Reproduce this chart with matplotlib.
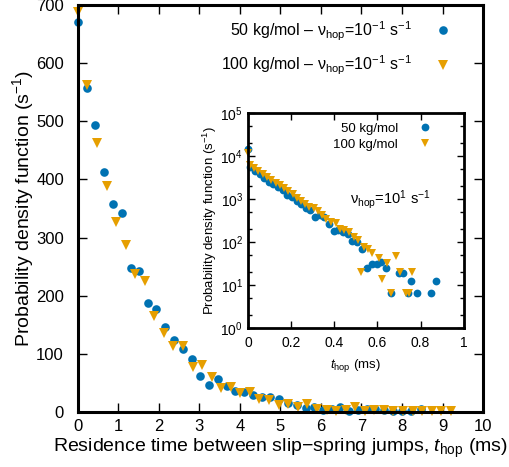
import matplotlib
matplotlib.use("Agg")
import matplotlib.pyplot as plt
from matplotlib.ticker import LogLocator, MultipleLocator, NullFormatter

plt.rcParams["font.family"] = ["Liberation Sans", "DejaVu Sans"]
plt.rcParams["mathtext.fontset"] = "custom"
plt.rcParams["mathtext.rm"] = "Liberation Sans"
plt.rcParams["mathtext.it"] = "Liberation Sans:italic"

BLUE = "#0072B2"
ORANGE = "#E69F00"

# main panel, nu_hop = 1e-1 s^-1
t50 = [0.0, 0.216, 0.43, 0.65, 0.86, 1.08, 1.30, 1.51, 1.73, 1.94,
       2.16, 2.38, 2.59, 2.81, 3.02, 3.24, 3.46, 3.67, 3.89, 4.10,
       4.32, 4.54, 4.75, 4.97, 5.18, 5.40, 5.62, 5.83, 6.05, 6.26,
       6.48, 6.70, 6.91, 7.13, 7.34, 7.56, 7.78, 7.99, 8.21, 8.46]
p50 = [671, 558, 494, 412, 357, 342, 248, 242, 188, 177,
       146, 124, 108, 91, 62, 46, 56, 45, 36, 34,
       29, 25, 25, 22, 16, 12, 6, 8, 3, 5,
       9, 2, 3, 5, 5, 3, 2, 2, 2, 5]
t100 = [0.0, 0.236, 0.47, 0.71, 0.94, 1.18, 1.42, 1.65, 1.89, 2.12,
        2.36, 2.60, 2.83, 3.07, 3.30, 3.54, 3.78, 4.01, 4.25, 4.48,
        4.72, 4.96, 5.19, 5.43, 5.66, 5.90, 6.14, 6.37, 6.61, 6.84,
        7.08, 7.32, 7.55, 7.79, 8.02, 8.26, 8.50, 8.73, 8.97, 9.22]
p100 = [688, 562, 462, 389, 327, 288, 237, 226, 165, 136,
        114, 114, 77, 80, 60, 41, 43, 32, 34, 22,
        20, 12, 14, 9, 14, 5, 4, 2, 3, 8,
        1, 3, 4, 1, 2, 1, 1, 1, 1, 1]

# inset, nu_hop = 1e1 s^-1
ti50 = [0.0, 0.011, 0.032, 0.054, 0.075, 0.097, 0.118, 0.140, 0.161, 0.183,
        0.204, 0.226, 0.247, 0.269, 0.290, 0.312, 0.333, 0.355, 0.376, 0.398,
        0.419, 0.441, 0.462, 0.484, 0.505, 0.527, 0.553, 0.574, 0.596, 0.617,
        0.642, 0.665, 0.699, 0.720, 0.740, 0.757, 0.782, 0.848, 0.872]
pi50 = [14500, 5500, 4500, 3800, 3000, 2500, 2200, 1900, 1600, 1250,
        1100, 900, 750, 600, 550, 390, 420, 370, 260, 182,
        190, 174, 151, 105, 100, 68, 25, 31, 30, 34,
        25, 6.4, 19, 19, 6.4, 12.4, 6.4, 6.4, 12.4]
ti100 = [0.0, 0.010, 0.030, 0.049, 0.069, 0.089, 0.108, 0.128, 0.148, 0.167,
         0.187, 0.207, 0.226, 0.246, 0.266, 0.285, 0.305, 0.325, 0.344, 0.364,
         0.384, 0.410, 0.428, 0.446, 0.468, 0.490, 0.508, 0.526, 0.540, 0.556,
         0.574, 0.606, 0.620, 0.645, 0.665, 0.684, 0.704, 0.734, 0.745, 0.762]
pi100 = [12000, 6200, 5300, 4500, 3800, 3300, 2800, 2400, 2100, 1800,
         1550, 1300, 1050, 900, 780, 650, 600, 520, 420, 340,
         296, 270, 200, 185, 170, 133, 110, 20, 78, 70,
         56, 42, 13.5, 32, 6.6, 47, 20, 6.6, 6.6, 20]

fig = plt.figure(figsize=(5.09, 4.67), dpi=100)
ax = fig.add_axes([0.153, 0.118, 0.796, 0.871])

ax.plot(t50, p50, "o", color=BLUE, ms=6.2, mew=0, clip_on=False,
        label=r"50 kg/mol – ν$_{\rm hop}$=10$^{-1}$ s$^{-1}$")
ax.plot(t100, p100, "v", color=ORANGE, ms=6.8, mew=0, clip_on=False,
        label=r"100 kg/mol – ν$_{\rm hop}$=10$^{-1}$ s$^{-1}$")
ax.set_xlim(0, 10)
ax.set_ylim(0, 700)
ax.xaxis.set_major_locator(MultipleLocator(1))
ax.yaxis.set_major_locator(MultipleLocator(100))
ax.tick_params(direction="in", top=True, right=True, length=6.5, width=1,
               labelsize=12)
ax.tick_params(axis="x", pad=5)
ax.tick_params(axis="y", pad=10)
for s in ax.spines.values():
    s.set_linewidth(2.2)
ax.set_xlabel(r"Residence time between slip−spring jumps, $t_{\rm hop}$ (ms)",
              fontsize=14, labelpad=2)
ax.set_ylabel(r"Probability density function (s$^{-1}$)", fontsize=14,
              labelpad=0)
ax.legend(loc="upper right", bbox_to_anchor=(0.931, 0.965),
          markerfirst=False, frameon=False, fontsize=11.5,
          labelspacing=0.7, handletextpad=1.2, borderaxespad=0,
          handlelength=1.5, borderpad=0)

ins = fig.add_axes([0.487, 0.298, 0.424, 0.460])
ins.semilogy(ti50, pi50, "o", color=BLUE, ms=5.6, mew=0, clip_on=False,
             label="50 kg/mol")
ins.semilogy(ti100, pi100, "v", color=ORANGE, ms=6, mew=0, clip_on=False,
             label="100 kg/mol")
ins.set_xlim(0, 1)
ins.set_ylim(1, 1e5)
ins.set_xticks([0, 0.2, 0.4, 0.6, 0.8, 1.0], ["0", "0.2", "0.4", "0.6", "0.8", "1"])
ins.yaxis.set_major_locator(LogLocator(base=10, numticks=10))
ins.yaxis.set_minor_locator(LogLocator(base=10, subs=(2, 5), numticks=10))
ins.yaxis.set_minor_formatter(NullFormatter())
ins.tick_params(which="both", direction="in", top=True, right=True,
                labelsize=10, width=1)
ins.tick_params(which="major", length=5)
ins.tick_params(which="minor", length=3)
ins.tick_params(axis="x", pad=6)
for s in ins.spines.values():
    s.set_linewidth(2)
ins.set_xlabel(r"$t_{\rm hop}$ (ms)", fontsize=9.5, labelpad=5)
ins.set_ylabel(r"Probability density function (s$^{-1}$)", fontsize=9.5,
               labelpad=1)
ins.legend(loc="upper right", bbox_to_anchor=(0.866, 0.955),
           markerfirst=False, frameon=False, fontsize=9.5,
           labelspacing=0.3, handletextpad=1.3, borderaxespad=0,
           handlelength=1.5, borderpad=0)
ins.text(0.845, 0.595, r"ν$_{\rm hop}$=10$^1$ s$^{-1}$", transform=ins.transAxes,
         ha="right", va="center", fontsize=10.5)

fig.savefig("out.png", dpi=100)
